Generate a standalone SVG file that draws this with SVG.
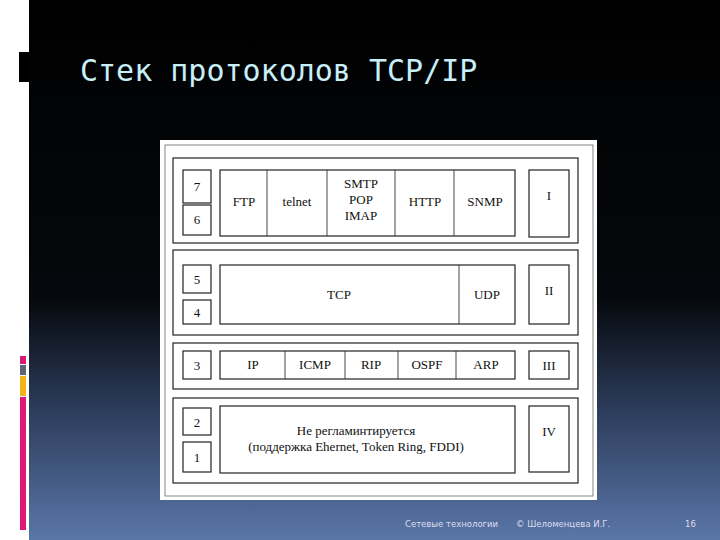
<svg xmlns="http://www.w3.org/2000/svg" width="720" height="540" viewBox="0 0 720 540">
<defs>
<linearGradient id="bg" x1="0" y1="0" x2="0" y2="1">
<stop offset="0" stop-color="#000"/><stop offset="0.55" stop-color="#05080c"/><stop offset="0.75" stop-color="#2b3a58"/><stop offset="1" stop-color="#5a76a8"/>
</linearGradient>
</defs>
<style>
.b{fill:#fff;stroke:#222;stroke-width:1.2}
.d{stroke:#333;stroke-width:0.9}
.t{font-family:"Liberation Serif",serif;font-size:13px;fill:#111;text-anchor:middle}
.f{font-family:"DejaVu Sans",sans-serif;font-size:8.5px;fill:#dde}
</style>
<rect width="720" height="540" fill="#fff"/>
<rect x="29" y="0" width="691" height="540" fill="url(#bg)"/>
<rect x="19" y="52" width="10" height="30" fill="#000"/>
<rect x="20" y="356" width="6" height="8" fill="#d81b72"/>
<rect x="20" y="365" width="6" height="10" fill="#5b6675"/>
<rect x="20" y="376" width="6" height="20" fill="#f2b417"/>
<rect x="20" y="397" width="6" height="133" fill="#e0187a"/>
<text x="80" y="81" font-family="DejaVu Sans Mono,monospace" font-size="30" fill="#c8eef8">Стек протоколов TCP/IP</text>
<rect x="160" y="140" width="437" height="360" fill="#fff"/>
<rect x="165" y="145" width="428" height="351" fill="none" stroke="#666" stroke-width="0.8"/>
<g id="band1">
<rect class="b" x="173" y="158" width="405" height="85"/>
<rect class="b" x="183" y="170" width="28" height="33"/><text class="t" x="197" y="191">7</text>
<rect class="b" x="183" y="205" width="28" height="30"/><text class="t" x="197" y="224">6</text>
<rect class="b" x="220" y="170" width="295" height="66"/>
<line class="d" x1="267" y1="170" x2="267" y2="236"/><line class="d" x1="327" y1="170" x2="327" y2="236"/>
<line class="d" x1="395" y1="170" x2="395" y2="236"/><line class="d" x1="454" y1="170" x2="454" y2="236"/>
<text class="t" x="244" y="206">FTP</text><text class="t" x="297" y="206">telnet</text>
<text class="t" x="361" y="188">SMTP</text><text class="t" x="361" y="204">POP</text><text class="t" x="361" y="220">IMAP</text>
<text class="t" x="425" y="206">HTTP</text><text class="t" x="485" y="206">SNMP</text>
<rect class="b" x="529" y="170" width="40" height="67"/><text class="t" x="549" y="200">I</text>
</g>
<g id="band2">
<rect class="b" x="173" y="250" width="405" height="85"/>
<rect class="b" x="183" y="265" width="28" height="28"/><text class="t" x="197" y="284">5</text>
<rect class="b" x="183" y="300" width="28" height="24"/><text class="t" x="197" y="317">4</text>
<rect class="b" x="220" y="265" width="295" height="59"/>
<line class="d" x1="459" y1="265" x2="459" y2="324"/>
<text class="t" x="339" y="299">TCP</text><text class="t" x="487" y="299">UDP</text>
<rect class="b" x="529" y="265" width="40" height="59"/><text class="t" x="549" y="295">II</text>
</g>
<g id="band3">
<rect class="b" x="173" y="343" width="405" height="46"/>
<rect class="b" x="183" y="351" width="28" height="28"/><text class="t" x="197" y="370">3</text>
<rect class="b" x="220" y="351" width="295" height="28"/>
<line class="d" x1="285" y1="351" x2="285" y2="379"/><line class="d" x1="345" y1="351" x2="345" y2="379"/>
<line class="d" x1="398" y1="351" x2="398" y2="379"/><line class="d" x1="456" y1="351" x2="456" y2="379"/>
<text class="t" x="253" y="369">IP</text><text class="t" x="315" y="369">ICMP</text><text class="t" x="371" y="369">RIP</text>
<text class="t" x="427" y="369">OSPF</text><text class="t" x="486" y="369">ARP</text>
<rect class="b" x="529" y="351" width="40" height="28"/><text class="t" x="549" y="370">III</text>
</g>
<g id="band4">
<rect class="b" x="173" y="398" width="405" height="85"/>
<rect class="b" x="183" y="408" width="28" height="27"/><text class="t" x="197" y="427">2</text>
<rect class="b" x="183" y="442" width="28" height="30"/><text class="t" x="197" y="462">1</text>
<rect class="b" x="220" y="406" width="295" height="67"/>
<text class="t" x="356" y="435">Не регламинтируется</text>
<text class="t" x="356" y="451">(поддержка Ehernet, Token Ring, FDDI)</text>
<rect class="b" x="529" y="406" width="40" height="66"/><text class="t" x="549" y="436">IV</text>
</g>
<g id="connectors"/>
<text class="f" x="405" y="527">Сетевые технологии</text>
<text class="f" x="516" y="527">© Шеломенцева И.Г.</text>
<text class="f" x="685" y="527">16</text>
</svg>
